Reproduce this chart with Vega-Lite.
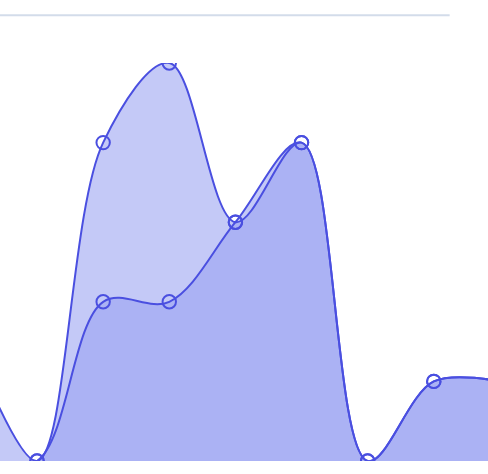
{
  "$schema": "https://vega.github.io/schema/vega-lite/v6.json",
  "width": 488,
  "height": 398,
  "autosize": "none",
  "padding": {"top": 63, "left": 0, "right": 0, "bottom": 13},
  "config": {"view": {"stroke": null}},
  "datasets": {
    "series": [
      {"series": "A", "i": -1, "v": 30},
      {"series": "A", "i": 0, "v": 0},
      {"series": "A", "i": 1, "v": 80},
      {"series": "A", "i": 2, "v": 100},
      {"series": "A", "i": 3, "v": 60},
      {"series": "A", "i": 4, "v": 80},
      {"series": "A", "i": 5, "v": 0},
      {"series": "A", "i": 6, "v": 20},
      {"series": "A", "i": 7, "v": 20},
      {"series": "B", "i": -1, "v": 0},
      {"series": "B", "i": 0, "v": 0},
      {"series": "B", "i": 1, "v": 40},
      {"series": "B", "i": 2, "v": 40},
      {"series": "B", "i": 3, "v": 60},
      {"series": "B", "i": 4, "v": 80},
      {"series": "B", "i": 5, "v": 0},
      {"series": "B", "i": 6, "v": 20},
      {"series": "B", "i": 7, "v": 20}
    ],
    "grid": [{"x": -0.56, "x2": 6.24, "y": 112}]
  },
  "layer": [
    {
      "data": {"name": "grid"},
      "mark": {"type": "rule", "color": "#d3dcea", "strokeWidth": 2, "clip": false},
      "encoding": {
        "x": {"field": "x", "type": "quantitative", "scale": {"domain": [-0.56, 6.82], "nice": false, "zero": false}, "axis": null},
        "x2": {"field": "x2"},
        "y": {"field": "y", "type": "quantitative", "scale": {"domain": [0, 100], "nice": false}, "axis": null}
      }
    },
    {
      "data": {"name": "series"},
      "mark": {"type": "area", "interpolate": "catmull-rom", "color": "#99a2f1", "opacity": 0.58, "clip": true},
      "encoding": {
        "x": {"field": "i", "type": "quantitative", "scale": {"domain": [-0.56, 6.82], "nice": false, "zero": false}, "axis": null},
        "y": {"field": "v", "type": "quantitative", "stack": null, "scale": {"domain": [0, 100], "nice": false}, "axis": null},
        "detail": {"field": "series"}
      }
    },
    {
      "data": {"name": "series"},
      "mark": {"type": "line", "interpolate": "catmull-rom", "color": "#4a4fe0", "strokeWidth": 2, "clip": true},
      "encoding": {
        "x": {"field": "i", "type": "quantitative"},
        "y": {"field": "v", "type": "quantitative"},
        "detail": {"field": "series"}
      }
    },
    {
      "data": {"name": "series"},
      "mark": {"type": "point", "filled": false, "color": "#4a4fe0", "strokeWidth": 2, "size": 180, "opacity": 1, "clip": true},
      "encoding": {
        "x": {"field": "i", "type": "quantitative"},
        "y": {"field": "v", "type": "quantitative"},
        "detail": {"field": "series"}
      }
    }
  ]
}
